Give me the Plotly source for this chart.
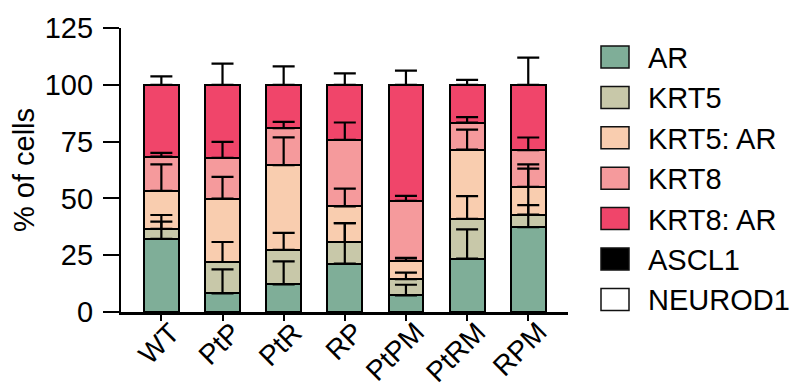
import plotly.graph_objects as go

categories = ["WT", "PtP", "PtR", "RP", "PtPM", "PtRM", "RPM"]
series_names = ["AR", "KRT5", "KRT5: AR", "KRT8", "KRT8: AR", "ASCL1", "NEUROD1"]

ar       = [32.2, 8.2, 12.2, 21.3, 7.3, 23.5, 37.3]
krt5     = [4.4, 13.8, 15.1, 9.5, 7.2, 17.5, 5.6]
krt5_ar  = [16.7, 27.9, 37.3, 15.7, 8.1, 30.5, 12.2]
krt8     = [15.1, 17.9, 16.3, 29.3, 26.3, 11.9, 16.1]
krt8_ar  = [31.6, 32.2, 19.1, 24.2, 51.1, 16.6, 28.8]
ascl1    = [0, 0, 0, 0, 0, 0, 0]
neurod1  = [0, 0, 0, 0, 0, 0, 0]

err_ar      = [7.6, 10.6, 10.1, 17.8, 4.7, 12.9, 9.7]
err_krt5    = [6.1, 8.8, 7.5, 8.3, 2.8, 10.0, 22.1]
err_krt5_ar = [11.7, 9.6, 12.3, 7.8, 1.2, 8.8, 8.0]
err_krt8    = [1.6, 7.1, 2.8, 7.6, 2.2, 2.4, 5.6]
err_krt8_ar = [3.7, 9.3, 8.1, 5.0, 6.2, 2.2, 12.0]

y_ticks = [0, 25, 50, 75, 100, 125]

colors = ["#7FAE98", "#C8C8A9", "#F9CDAF", "#F59A9C", "#F0456A", "#000000", "#FFFFFF"]

values = [ar, krt5, krt5_ar, krt8, krt8_ar, ascl1, neurod1]
errors = [err_ar, err_krt5, err_krt5_ar, err_krt8, err_krt8_ar, None, None]

FONT = "Arial, Liberation Sans, sans-serif"

# page body has an 8px margin: work in window pixels and subtract it
OFF = 8
FIG_W, FIG_H = 804 - OFF, 389 - OFF
L, T, W, H = 121 - OFF, 28 - OFF, 447, 284

fig = go.Figure()
for name, vals, col in zip(series_names, values, colors):
    fig.add_trace(go.Bar(
        x=categories, y=vals, name=name, width=0.57,
        marker=dict(color=col, line=dict(color="#000000", width=2 if any(vals) else 0)),
        showlegend=False,
    ))

# error bars on top of the stacked segments
cum = [0.0] * len(categories)
for vals, err in zip(values, errors):
    cum = [c + v for c, v in zip(cum, vals)]
    if err is None:
        continue
    fig.add_trace(go.Scatter(
        x=categories, y=cum, mode="markers",
        marker=dict(size=1, color="rgba(0,0,0,0)"),
        error_y=dict(type="data", symmetric=False, array=err,
                     arrayminus=[0] * len(err), color="#000000",
                     thickness=2.2, width=11),
        showlegend=False, hoverinfo="skip",
    ))

# coords in window px -> paper
def px(x):
    return (x - OFF - L) / W
def py(y):
    return (T + H - (y - OFF)) / H

shapes = []
annotations = []
# manual legend (large rectangular swatches)
for i, (name, col) in enumerate(zip(series_names, colors)):
    cy = 57 + 40.4 * i
    shapes.append(dict(type="rect", xref="paper", yref="paper",
                       x0=px(601), x1=px(629), y0=py(cy + 11), y1=py(cy - 11),
                       fillcolor=col, line=dict(color="#111111", width=1.5)))
    annotations.append(dict(xref="paper", yref="paper", x=px(646), y=py(cy + 1),
                            text=name, showarrow=False, xanchor="left",
                            yanchor="middle", font=dict(family=FONT, size=29, color="#000000")))

# rotated category labels
for c in categories:
    annotations.append(dict(xref="x", yref="paper", x=c, y=py(314), xshift=27,
                            text=c, showarrow=False, textangle=-45,
                            xanchor="right", yanchor="top",
                            font=dict(family=FONT, size=28, color="#000000")))

fig.update_layout(
    barmode="stack",
    width=FIG_W, height=FIG_H,
    margin=dict(l=L, r=FIG_W - L - W, t=T, b=FIG_H - T - H, autoexpand=False),
    plot_bgcolor="white", paper_bgcolor="white",
    shapes=shapes, annotations=annotations,
    font=dict(family=FONT, size=29, color="#000000"),
)
fig.update_yaxes(
    range=[0, 125], tickvals=y_ticks, ticks="outside", ticklen=16, tickwidth=2,
    tickcolor="#000000", showline=True, linewidth=2.2, linecolor="#000000",
    showgrid=False, zeroline=False, ticklabelstandoff=4, automargin=False,
    tickfont=dict(family=FONT, size=29),
    title=dict(text="% of cells", font=dict(family=FONT, size=29), standoff=10),
)
fig.update_xaxes(
    range=[-0.66, 6.65], ticks="outside", ticklen=6, tickwidth=2, tickcolor="#000000",
    showline=True, linewidth=2.5, linecolor="#000000", showgrid=False,
    showticklabels=False, automargin=False,
)

fig.write_html("out.html")
